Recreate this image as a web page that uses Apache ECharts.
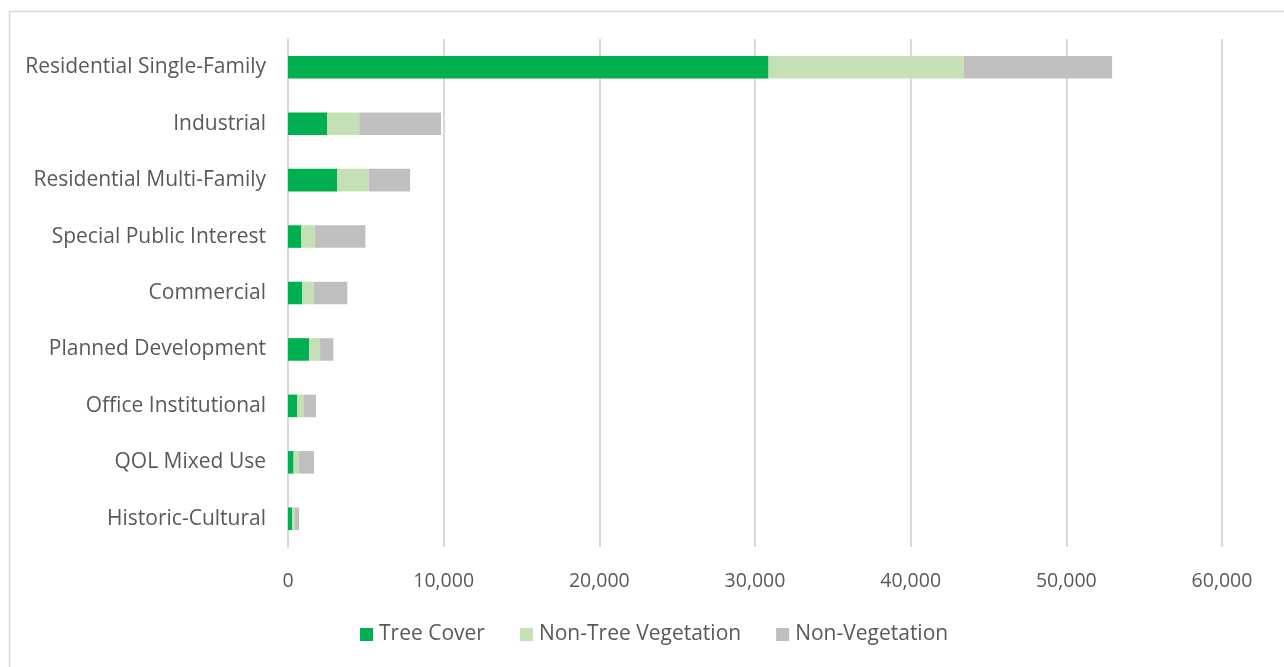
<!DOCTYPE html>
<html>
<head>
<meta charset="utf-8">
<script src="https://cdn.jsdelivr.net/npm/echarts@6/dist/echarts.min.js"></script>
<style>
  html, body { margin: 0; padding: 0; background: #ffffff; }
  #chart { width: 1284px; height: 667px; }
</style>
</head>
<body>
<div id="chart"></div>
<script>
// Land-use categories, listed top to bottom
const categories = [
  'Residential Single-Family',
  'Industrial',
  'Residential Multi-Family',
  'Special Public Interest',
  'Commercial',
  'Planned Development',
  'Office Institutional',
  'QOL Mixed Use',
  'Historic-Cultural'
];

// Area per land cover class
const treeCover = [30870, 2530, 3150, 860, 900, 1350, 600, 360, 260];
const nonTreeVegetation = [12530, 2050, 2040, 880, 750, 710, 430, 350, 190];
const nonVegetation = [9540, 5250, 2650, 3230, 2160, 850, 770, 960, 260];

const seriesNames = ['Tree Cover', 'Non-Tree Vegetation', 'Non-Vegetation'];
const seriesColors = ['#00b050', '#c5e0b4', '#bfbfbf'];
const seriesData = [treeCover, nonTreeVegetation, nonVegetation];

const FONT = 'Open Sans';
const TEXT = '#595959';

const chart = echarts.init(document.getElementById('chart'));

chart.setOption({
  animation: false,
  textStyle: { fontFamily: FONT },
  graphic: [{
    type: 'rect',
    left: 7, top: 9,
    shape: { width: 1276, height: 680 },
    style: { fill: 'none', stroke: '#d9d9d9', lineWidth: 1.5 },
    silent: true
  }],
  grid: { left: 288, right: 62, top: 39, bottom: 120, containLabel: false },
  legend: {
    bottom: 17,
    left: 355,
    itemWidth: 13,
    itemHeight: 13,
    itemGap: 35,
    icon: 'rect',
    textStyle: { color: TEXT, fontSize: 21, fontFamily: FONT, padding: [0, 0, 0, 1] },
    data: seriesNames
  },
  xAxis: {
    type: 'value',
    min: 0,
    max: 60000,
    interval: 10000,
    axisLine: { show: false },
    axisTick: { show: false },
    splitLine: { show: true, lineStyle: { color: '#d9d9d9', width: 2 } },
    axisLabel: {
      color: TEXT, fontSize: 19.5, fontFamily: FONT, margin: 24,
      formatter: v => v.toLocaleString('en-US')
    }
  },
  yAxis: {
    type: 'category',
    inverse: true,
    data: categories,
    axisLine: { show: true, lineStyle: { color: '#d9d9d9', width: 2 } },
    axisTick: { show: false },
    axisLabel: { color: TEXT, fontSize: 21, fontFamily: FONT, margin: 22, padding: [3, 0, 0, 0] }
  },
  series: seriesData.map((d, i) => ({
    name: seriesNames[i],
    type: 'bar',
    stack: 'total',
    data: d,
    barWidth: '40%',
    itemStyle: { color: seriesColors[i] }
  }))
});
</script>
</body>
</html>
